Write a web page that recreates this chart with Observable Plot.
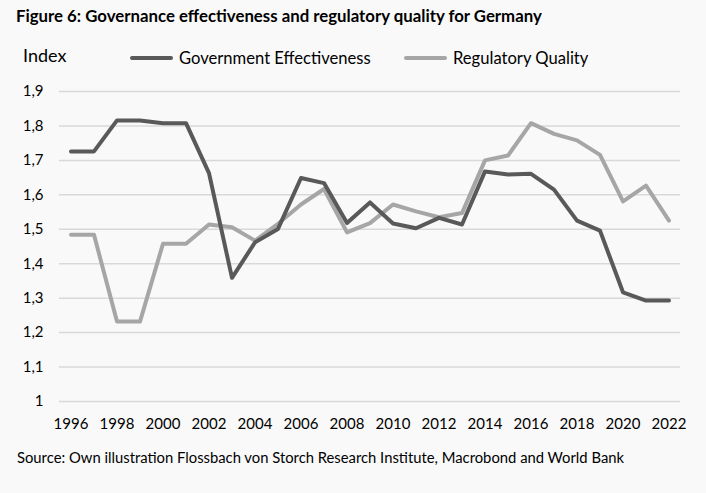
<!DOCTYPE html>
<html>
<head>
<meta charset="utf-8">
<script src="https://cdn.jsdelivr.net/npm/d3@7"></script>
<script src="https://cdn.jsdelivr.net/npm/@observablehq/plot@0.6"></script>
<style>
  html, body { margin: 0; padding: 0; background: #f9f9f9; }
  #wrap { position: relative; width: 706px; height: 493px; font-family: Lato, "Open Sans", sans-serif; color: #000; }
  #title { position: absolute; left: 16px; top: 4.5px; font-weight: bold; font-size: 16.8px; white-space: nowrap; line-height: normal; }
  #index { position: absolute; left: 23px; top: 44px; font-size: 18px; line-height: normal; }
  .leg { position: absolute; top: 48px; font-size: 16.6px; white-space: nowrap; display: flex; align-items: center; line-height: normal; }
  .sw { display: inline-block; width: 43px; height: 4.5px; border-radius: 2.25px; margin-right: 6px; }
  #caption { position: absolute; left: 17px; top: 448px; font-size: 14.8px; white-space: nowrap; line-height: normal; }
  #chart { position: absolute; left: 0; top: 0; }
</style>
</head>
<body>
<div id="wrap">
  <div id="chart"></div>
  <div id="title">Figure 6: Governance effectiveness and regulatory quality for Germany</div>
  <div id="index">Index</div>
  <div class="leg" style="left:130px"><span class="sw" style="background:#595959"></span>Government Effectiveness</div>
  <div class="leg" style="left:404px"><span class="sw" style="background:#a6a6a6"></span>Regulatory Quality</div>
  <div id="caption">Source: Own illustration Flossbach von Storch Research Institute, Macrobond and World Bank</div>
</div>
<script>
const years = [1996,1997,1998,1999,2000,2001,2002,2003,2004,2005,2006,2007,2008,2009,2010,2011,2012,2013,2014,2015,2016,2017,2018,2019,2020,2021,2022];
const govEff = [1.726,1.726,1.816,1.816,1.808,1.808,1.663,1.359,1.462,1.501,1.649,1.634,1.518,1.578,1.517,1.503,1.533,1.514,1.668,1.659,1.661,1.615,1.525,1.496,1.317,1.293,1.293];
const regQual = [1.484,1.484,1.232,1.232,1.458,1.458,1.514,1.506,1.467,1.516,1.572,1.617,1.491,1.518,1.572,1.552,1.535,1.547,1.700,1.714,1.808,1.777,1.758,1.716,1.581,1.627,1.525];
const seriesNames = ["Government Effectiveness", "Regulatory Quality"];
const seriesColors = ["#595959", "#a6a6a6"];
const yTicks = [1,1.1,1.2,1.3,1.4,1.5,1.6,1.7,1.8,1.9];
const xTicks = [1996,1998,2000,2002,2004,2006,2008,2010,2012,2014,2016,2018,2020,2022];

const gov = years.map((y, i) => ({year: y, value: govEff[i], series: seriesNames[0]}));
const reg = years.map((y, i) => ({year: y, value: regQual[i], series: seriesNames[1]}));
const fmt = d => d === 1 ? "1" : d.toFixed(1).replace(".", ",");

const chart = Plot.plot({
  width: 706,
  height: 493,
  marginLeft: 59,
  marginRight: 26,
  marginTop: 91,
  marginBottom: 92,
  style: { background: "transparent", fontFamily: "Lato, 'Open Sans', sans-serif", fontSize: "15px", color: "#000" },
  x: { domain: [1995.5, 2022.5], label: null },
  y: { domain: [1, 1.9], label: null },
  marks: [
    Plot.ruleY(yTicks, { stroke: "#d9d9d9", strokeWidth: 1.5 }),
    Plot.axisX({ ticks: xTicks, tickFormat: d => String(d), tickSize: 0, tickPadding: 17, fontSize: 15 }),
    Plot.axisY({ ticks: yTicks, tickFormat: fmt, tickSize: 0, tickPadding: 16, fontSize: 15 }),
    Plot.line(reg, { x: "year", y: "value", stroke: seriesColors[1], strokeWidth: 4, strokeLinejoin: "round" }),
    Plot.line(gov, { x: "year", y: "value", stroke: seriesColors[0], strokeWidth: 4, strokeLinejoin: "round" })
  ]
});
document.getElementById("chart").appendChild(chart);
</script>
</body>
</html>
